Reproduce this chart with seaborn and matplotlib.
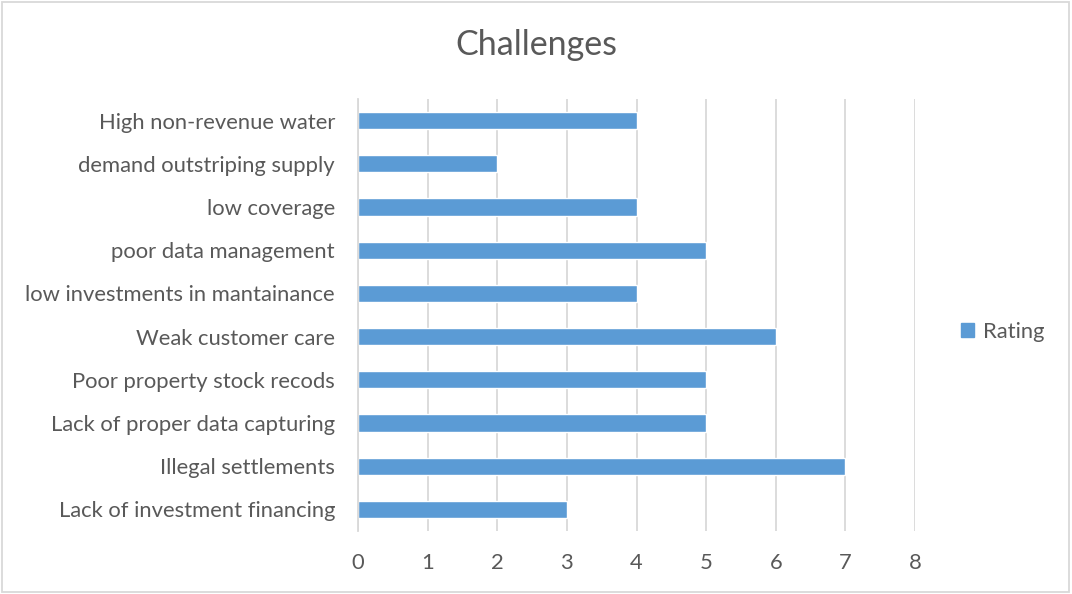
import matplotlib
matplotlib.use("Agg")
import matplotlib.pyplot as plt
import matplotlib.patches as mpatches
import seaborn as sns
import pandas as pd

categories = [
    "High non-revenue water",
    "demand outstriping supply",
    "low coverage",
    "poor data management",
    "low investments in mantainance",
    "Weak customer care",
    "Poor property stock recods",
    "Lack of proper data capturing",
    "Illegal settlements",
    "Lack of investment financing",
]
ratings = [4, 2, 4, 5, 4, 6, 5, 5, 7, 3]
series_name = "Rating"
x_ticks = [0, 1, 2, 3, 4, 5, 6, 7, 8]

BAR = "#5B9BD5"
GRID = "#D9D9D9"
TEXT = "#595959"

sns.set_style("white")
plt.rcParams["font.family"] = ["Lato", "DejaVu Sans"]

df = pd.DataFrame({"challenge": categories, "value": ratings,
                   "series": [series_name] * len(categories)})

fig = plt.figure(figsize=(10.72, 5.94), dpi=100)
ax = fig.add_axes([358 / 1072, 1 - 531 / 594, (915 - 358) / 1072, (531 - 99) / 594])

sns.barplot(data=df, x="value", y="challenge", hue="series", order=categories,
            palette=[BAR], width=0.4, dodge=False, orient="h", ax=ax,
            legend=False, saturation=1)

ax.set_xlim(0, 8)
ax.set_xticks(x_ticks)
ax.set_xlabel("")
ax.set_ylabel("")
ax.xaxis.grid(True, color=GRID, linewidth=1.3)
ax.set_axisbelow(True)
for side in ["top", "right", "bottom"]:
    ax.spines[side].set_visible(False)
ax.spines["left"].set_color(GRID)
ax.spines["left"].set_linewidth(1.3)
ax.tick_params(axis="both", length=0, labelsize=15.8, colors=TEXT)
ax.tick_params(axis="x", pad=16)
ax.tick_params(axis="y", pad=16.5)

fig.suptitle("Challenges", x=0.5, y=1 - 45 / 594, va="center",
             fontsize=24.5, color=TEXT)

handle = mpatches.Patch(color=BAR, label=series_name)
fig.legend(handles=[handle], loc="center", bbox_to_anchor=(1003 / 1072, 1 - 332 / 594),
           frameon=False, fontsize=15.8, labelcolor=TEXT, handlelength=0.6,
           handleheight=0.6, handletextpad=0.4)

# chart border
fig.patches.append(mpatches.Rectangle((0.0015, 0.0035), 0.9955, 0.993,
                                      transform=fig.transFigure, fill=False,
                                      edgecolor=GRID, linewidth=1.3))

fig.savefig("out.png", dpi=100)
